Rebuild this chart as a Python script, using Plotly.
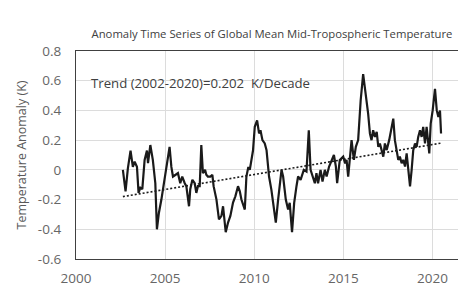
import plotly.graph_objects as go

# Values (decimal year, anomaly in K)
years = [2002.63, 2002.78, 2002.91, 2003.06, 2003.19, 2003.29, 2003.42, 2003.51, 2003.61, 2003.72,
         2003.85, 2003.98, 2004.04, 2004.17, 2004.31, 2004.45, 2004.54, 2004.65, 2004.79, 2004.88,
         2005.03, 2005.10, 2005.25, 2005.35, 2005.44, 2005.59, 2005.72, 2005.85, 2005.96, 2006.10,
         2006.19, 2006.34, 2006.41, 2006.53, 2006.66, 2006.75, 2006.84, 2006.94, 2007.03, 2007.12,
         2007.24, 2007.31, 2007.40, 2007.54, 2007.65, 2007.72, 2007.88, 2008.02, 2008.16, 2008.25,
         2008.34, 2008.40, 2008.53, 2008.66, 2008.81, 2008.94, 2009.09, 2009.19, 2009.28, 2009.47,
         2009.56, 2009.67, 2009.75, 2009.84, 2009.93, 2010.03, 2010.16, 2010.27, 2010.35, 2010.46,
         2010.59, 2010.69, 2010.83, 2010.96, 2011.06, 2011.21, 2011.34, 2011.53, 2011.62, 2011.77,
         2011.90, 2011.99, 2012.12, 2012.24, 2012.37, 2012.46, 2012.60, 2012.71, 2012.78, 2012.93,
         2013.06, 2013.16, 2013.27, 2013.40, 2013.49, 2013.58, 2013.72, 2013.83, 2013.96, 2014.06,
         2014.20, 2014.34, 2014.47, 2014.58, 2014.65, 2014.80, 2014.99, 2015.10, 2015.18, 2015.27,
         2015.37, 2015.46, 2015.59, 2015.70, 2015.83, 2015.97, 2016.11, 2016.26, 2016.39, 2016.49,
         2016.58, 2016.67, 2016.77, 2016.87, 2016.96, 2017.05, 2017.15, 2017.24, 2017.33, 2017.43,
         2017.57, 2017.71, 2017.80, 2017.89, 2017.99, 2018.08, 2018.17, 2018.27, 2018.36, 2018.46,
         2018.55, 2018.64, 2018.74, 2018.83, 2018.92, 2019.02, 2019.11, 2019.20, 2019.30, 2019.39,
         2019.48, 2019.58, 2019.67, 2019.82, 2019.90, 2020.01, 2020.14, 2020.24, 2020.33, 2020.42,
         2020.48]
anomaly = [0.00, -0.145, 0.01, 0.13, 0.02, 0.055, 0.02, -0.155, -0.12, -0.13,
           0.067, 0.13, 0.045, 0.167, 0.067, -0.09, -0.40, -0.29, -0.20, -0.13,
           -0.045, 0.02, 0.155, 0.02, -0.045, -0.033, -0.022, -0.09, -0.045, -0.09,
           -0.11, -0.245, -0.13, -0.067, -0.09, -0.155, -0.11, -0.11, 0.167, -0.022,
           0.00, -0.033, -0.045, -0.045, -0.033, -0.11, -0.20, -0.333, -0.31, -0.245,
           -0.333, -0.42, -0.355, -0.31, -0.22, -0.178, -0.11, -0.145, -0.20, -0.267,
           -0.045, 0.02, 0.00, 0.067, 0.13, 0.29, 0.333, 0.245, 0.267, 0.20,
           0.178, 0.133, -0.045, -0.133, -0.222, -0.355, -0.20, 0.00, -0.045, -0.20,
           -0.267, -0.222, -0.42, -0.222, -0.11, -0.045, -0.067, -0.022, 0.00, -0.011,
           0.267, 0.00, -0.045, -0.09, -0.022, -0.09, 0.00, -0.078, 0.00, -0.045,
           0.022, 0.067, 0.10, 0.022, -0.09, 0.067, 0.089, 0.044, 0.067, -0.045,
           0.067, 0.20, 0.067, 0.155, 0.20, 0.467, 0.645, 0.511, 0.378, 0.245,
           0.20, 0.267, 0.222, 0.255, 0.155, 0.178, 0.133, 0.089, 0.178, 0.133,
           0.20, 0.289, 0.345, 0.20, 0.111, 0.067, 0.089, 0.044, 0.067, 0.022,
           0.111, -0.022, -0.111, 0.00, 0.133, 0.178, 0.155, 0.222, 0.267, 0.222,
           0.289, 0.178, 0.289, 0.111, 0.311, 0.40, 0.545, 0.40, 0.355, 0.40,
           0.245]

trend_years = [2002.63, 2020.48]
trend_values = [-0.18, 0.18]

x_ticks = [2000, 2005, 2010, 2015, 2020]
y_ticks = [-0.6, -0.4, -0.2, 0, 0.2, 0.4, 0.6, 0.8]
y_tick_labels = ["-0.6", "-0.4", "-0.2", "0", "0.2", "0.4", "0.6", "0.8"]

title_text = "Anomaly Time Series of Global Mean Mid-Tropospheric Temperature"
trend_text = "Trend (2002-2020)=0.202  K/Decade"
y_title = "Temperature Anomaly (K)"

FONT = "Open Sans"

fig = go.Figure()
fig.add_trace(go.Scatter(x=years, y=anomaly, mode="lines",
                         line=dict(color="#1a1a1a", width=2.2), showlegend=False))
fig.add_trace(go.Scatter(x=trend_years, y=trend_values, mode="lines",
                         line=dict(color="#1a1a1a", width=1.6, dash="2px,2px"), showlegend=False))

# The page body has an 8px margin: the figure is sized to fill the rest of the window.
W, H = 458, 280
fig.update_layout(
    width=W, height=H,
    margin=dict(l=68, r=0, t=43, b=29, autoexpand=False),
    paper_bgcolor="white", plot_bgcolor="white",
    font=dict(family=FONT, color="#595959"),
    title=dict(text=title_text, x=264 / W, xanchor="center", y=1 - 26 / H, yanchor="middle",
               font=dict(family=FONT, size=11.3, color="#404040"), automargin=False),
    xaxis=dict(range=[2000, 2021.88], tickvals=x_ticks, ticks="", automargin=False,
               showgrid=True, gridcolor="#dcdcdc", gridwidth=1, zeroline=False,
               showline=True, linecolor="#404040", linewidth=1.2, mirror=True,
               tickfont=dict(size=13.5, color="#666666"), ticklabelstandoff=7),
    yaxis=dict(range=[-0.6, 0.8], tickvals=y_ticks, ticktext=y_tick_labels, ticks="",
               automargin=False,
               showgrid=True, gridcolor="#dcdcdc", gridwidth=1, zeroline=False,
               showline=True, linecolor="#404040", linewidth=1.2,
               tickfont=dict(size=13.5, color="#666666"), ticklabelstandoff=11,
               title=dict(text=y_title, font=dict(size=12.5, color="#595959"), standoff=8)),
    annotations=[dict(text=trend_text, x=2000.75, y=0.587, xref="x", yref="y",
                      xanchor="left", yanchor="middle", showarrow=False,
                      font=dict(family=FONT, size=13.2, color="#404040"))],
)

fig.write_html("out.html")
